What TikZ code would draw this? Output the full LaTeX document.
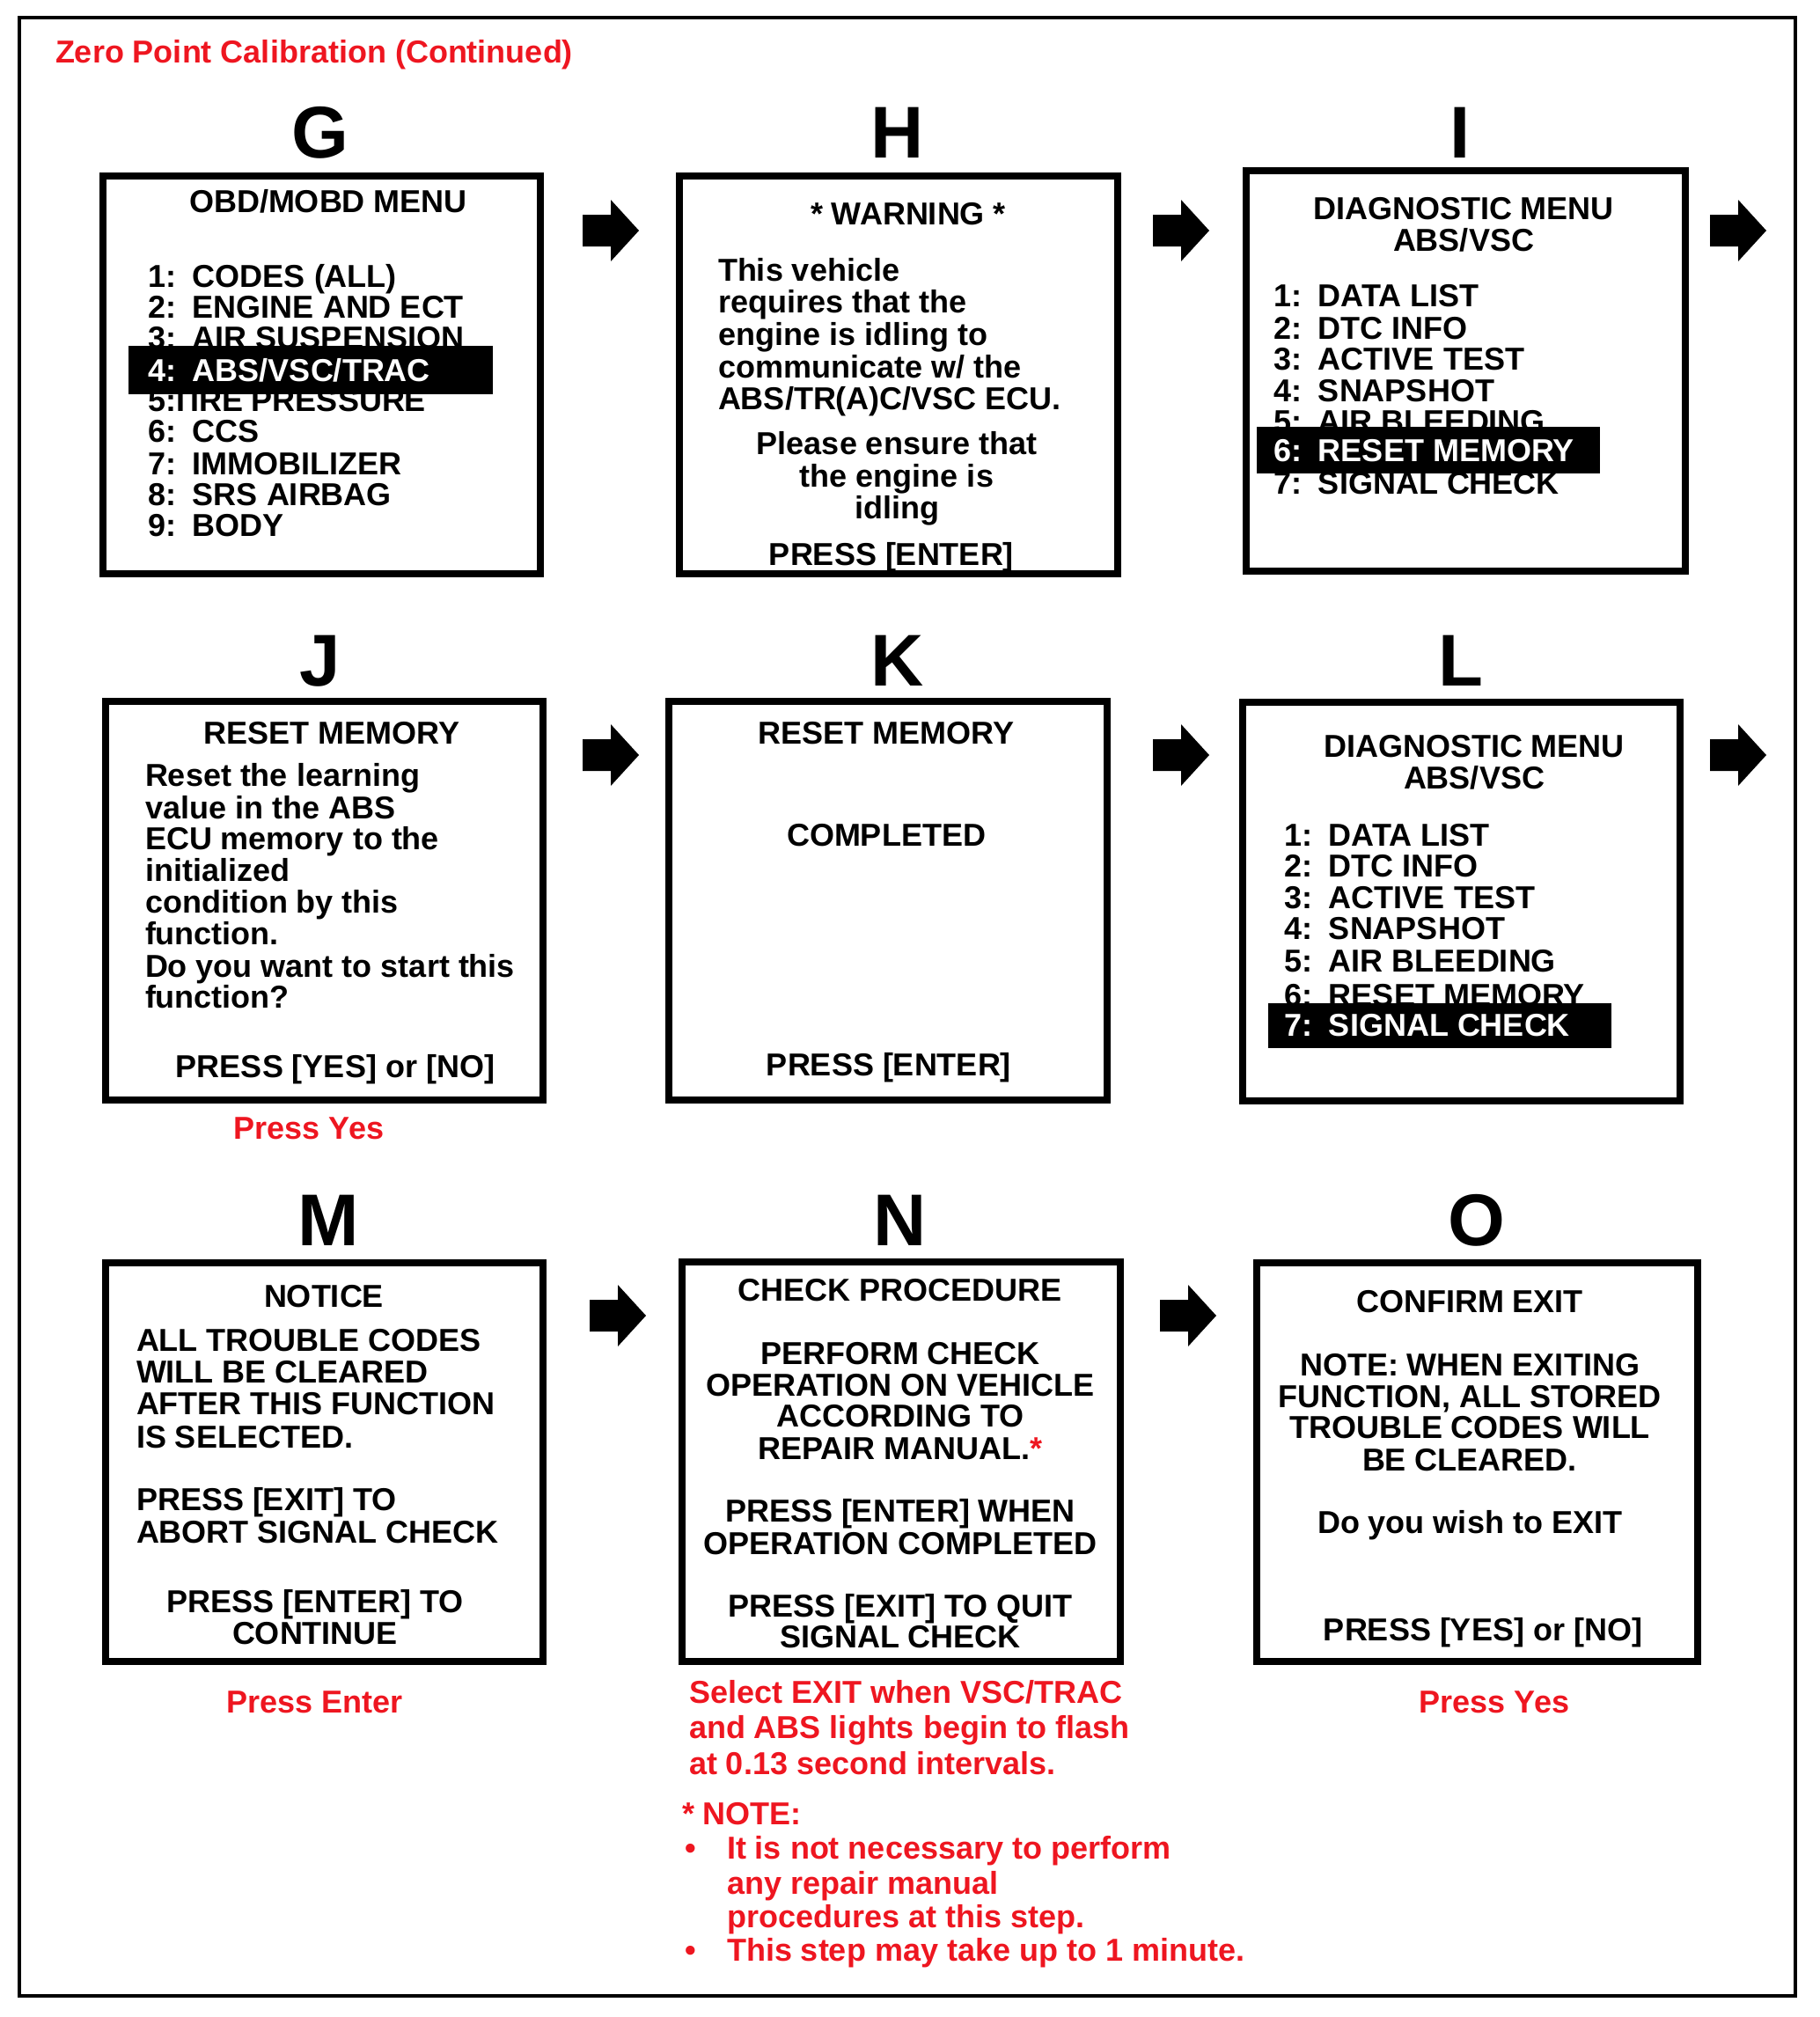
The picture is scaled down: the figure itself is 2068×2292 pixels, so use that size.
\documentclass[tikz,border=0pt]{standalone}
\usepackage{fontspec}
\setmainfont{Liberation Sans}
\definecolor{notered}{RGB}{238,22,32}
\newcommand\num[1]{\makebox[15.3pt][l]{#1}}
\newcommand\numn[1]{\makebox[7.8pt][l]{#1}}
\begin{document}
\begin{tikzpicture}[x=0.3pt,y=-0.3pt,
  every node/.style={inner sep=0pt,outer sep=0pt},
  body/.style={font=\fontsize{10.8}{12}\selectfont\bfseries},
  lt/.style={body,anchor=base west},
  ct/.style={body,anchor=base},
  wt/.style={lt,text=white},
  rednote/.style={text=notered},
  letter/.style={font=\fontsize{25}{30}\selectfont\bfseries,anchor=base},
  screen/.style={draw,line width=2.2pt},
  hlbar/.style={fill=black},
  blockarrow/.style={fill=black}]
\useasboundingbox (0,0) rectangle (2068,2292);
\draw[line width=1.35pt] (22,20) rectangle (2040,2268);
\node[body,rednote,anchor=base west] (title) at (63,71) {Zero Point Calibration (Continued)};

% step letters
\node[letter] (LG) at (364,179) {G};
\node[letter] (LH) at (1020,179) {H};
\node[letter] (LI) at (1659,179) {I};
\node[letter] (LJ) at (364,779) {J};
\node[letter] (LK) at (1020,779) {K};
\node[letter] (LL) at (1660,779) {L};
\node[letter] (LM) at (373,1415) {M};
\node[letter] (LN) at (1023,1415) {N};
\node[letter] (LO) at (1678,1415) {O};

% screens
\draw[screen] (117,200) rectangle (614,652);
\draw[screen] (772,200) rectangle (1270,652);
\draw[screen] (1416,194) rectangle (1915,649);
\draw[screen] (120,797) rectangle (617,1250);
\draw[screen] (760,797) rectangle (1258,1250);
\draw[screen] (1412,798) rectangle (1909,1251);
\draw[screen] (120,1435) rectangle (617,1888);
\draw[screen] (775,1434) rectangle (1273,1888);
\draw[screen] (1428,1435) rectangle (1929,1888);

% block arrows
\foreach \ax/\ay in {694/262,1342/262,1975/262,694/858,1342/858,1975/858,702/1495,1350/1495}
  \fill[blockarrow,shift={(\ax,\ay)}] (-32,-18) -- (0,-18) -- (0,-35) -- (32,0) -- (0,35) -- (0,18) -- (-32,18) -- cycle;

% G
\node[ct] (g0) at (373,241) {OBD/MOBD MENU};
\node[lt] (g1) at (168,326) {\num{1:}CODES (ALL)};
\node[lt] (g2) at (168,361) {\num{2:}ENGINE AND ECT};
\node[lt] (g3) at (168,396) {\num{3:}AIR SUSPENSION};
\node[lt] (g5) at (168,467) {\numn{5:}TIRE PRESSURE};
\fill[hlbar] (146,393) rectangle (560,448);
\node[wt] (g4) at (168,433) {\num{4:}ABS/VSC/TRAC};
\node[lt] (g6) at (168,502) {\num{6:}CCS};
\node[lt] (g7) at (168,539) {\num{7:}IMMOBILIZER};
\node[lt] (g8) at (168,574) {\num{8:}SRS AIRBAG};
\node[lt] (g9) at (168,609) {\num{9:}BODY};

% H
\node[ct] (h0) at (1032,255) {* WARNING *};
\node[lt] (h1) at (816,319) {This vehicle};
\node[lt] (h2) at (816,355) {requires that the};
\node[lt] (h3) at (816,392) {engine is idling to};
\node[lt] (h4) at (816,429) {communicate w/ the};
\node[lt] (h5) at (816,465) {ABS/TR(A)C/VSC ECU.};
\node[ct] (h6) at (1019,516) {Please ensure that};
\node[ct] (h7) at (1019,553) {the engine is};
\node[ct] (h8) at (1019,589) {idling};
\node[ct] (h9) at (1013,642) {PRESS [ENTER]};

% I
\node[ct] (i0) at (1663,249) {DIAGNOSTIC MENU};
\node[ct] (i0b) at (1663,285) {ABS/VSC};
\node[lt] (i1) at (1447,348) {\num{1:}DATA LIST};
\node[lt] (i2) at (1447,385) {\num{2:}DTC INFO};
\node[lt] (i3) at (1447,420) {\num{3:}ACTIVE TEST};
\node[lt] (i4) at (1447,456) {\num{4:}SNAPSHOT};
\node[lt] (i5) at (1447,491) {\num{5:}AIR BLEEDING};
\node[lt] (i7) at (1447,561) {\num{7:}SIGNAL CHECK};
\fill[hlbar] (1428,485) rectangle (1818,538);
\node[wt] (i6) at (1447,524) {\num{6:}RESET MEMORY};

% J
\node[ct] (j0) at (377,845) {RESET MEMORY};
\node[lt] (j1) at (165,893) {Reset the learning};
\node[lt] (j2) at (165,930) {value in the ABS};
\node[lt] (j3) at (165,965) {ECU memory to the};
\node[lt] (j4) at (165,1001) {initialized};
\node[lt] (j5) at (165,1037) {condition by this};
\node[lt] (j6) at (165,1073) {function.};
\node[lt] (j7) at (165,1110) {Do you want to start this};
\node[lt] (j8) at (165,1145) {function?};
\node[ct] (j9) at (381,1224) {PRESS [YES] or [NO]};
\node[ct,rednote] (jr) at (351,1294) {Press Yes};

% K
\node[ct] (k0) at (1007,845) {RESET MEMORY};
\node[ct] (k1) at (1007,961) {COMPLETED};
\node[ct] (k2) at (1010,1222) {PRESS [ENTER]};

% L
\node[ct] (l0) at (1675,860) {DIAGNOSTIC MENU};
\node[ct] (l0b) at (1675,896) {ABS/VSC};
\node[lt] (l1) at (1459,961) {\num{1:}DATA LIST};
\node[lt] (l2) at (1459,996) {\num{2:}DTC INFO};
\node[lt] (l3) at (1459,1032) {\num{3:}ACTIVE TEST};
\node[lt] (l4) at (1459,1067) {\num{4:}SNAPSHOT};
\node[lt] (l5) at (1459,1104) {\num{5:}AIR BLEEDING};
\node[lt] (l6) at (1459,1143) {\num{6:}RESET MEMORY};
\fill[hlbar] (1441,1140) rectangle (1831,1191);
\node[wt] (l7) at (1459,1177) {\num{7:}SIGNAL CHECK};

% M
\node[ct] (m0) at (368,1485) {NOTICE};
\node[lt] (m1) at (155,1535) {ALL TROUBLE CODES};
\node[lt] (m2) at (155,1571) {WILL BE CLEARED};
\node[lt] (m3) at (155,1607) {AFTER THIS FUNCTION};
\node[lt] (m4) at (155,1645) {IS SELECTED.};
\node[lt] (m5) at (155,1716) {PRESS [EXIT] TO};
\node[lt] (m6) at (155,1753) {ABORT SIGNAL CHECK};
\node[ct] (m7) at (358,1832) {PRESS [ENTER] TO};
\node[ct] (m8) at (358,1868) {CONTINUE};
\node[ct,rednote] (mr) at (358,1946) {Press Enter};

% N
\node[ct] (n0) at (1023,1478) {CHECK PROCEDURE};
\node[ct] (n1) at (1023,1550) {PERFORM CHECK};
\node[ct] (n2) at (1023,1586) {OPERATION ON VEHICLE};
\node[ct] (n3) at (1023,1621) {ACCORDING TO};
\node[ct] (n4) at (1023,1658) {REPAIR MANUAL.\textcolor{notered}{*}};
\node[ct] (n5) at (1023,1729) {PRESS [ENTER] WHEN};
\node[ct] (n6) at (1023,1766) {OPERATION COMPLETED};
\node[ct] (n7) at (1023,1837) {PRESS [EXIT] TO QUIT};
\node[ct] (n8) at (1023,1872) {SIGNAL CHECK};
\node[lt,rednote] (nr1) at (783,1935) {Select EXIT when VSC/TRAC};
\node[lt,rednote] (nr2) at (783,1975) {and ABS lights begin to flash};
\node[lt,rednote] (nr3) at (783,2016) {at 0.13 second intervals.};
\node[lt,rednote] (nr4) at (775,2073) {* NOTE:};
\node[lt,rednote] (nb1) at (778,2112) {\textbullet};
\node[lt,rednote] (nr5) at (826,2112) {It is not necessary to perform};
\node[lt,rednote] (nr6) at (826,2152) {any repair manual};
\node[lt,rednote] (nr7) at (826,2190) {procedures at this step.};
\node[lt,rednote] (nb2) at (778,2228) {\textbullet};
\node[lt,rednote] (nr8) at (826,2228) {This step may take up to 1 minute.};

% O
\node[ct] (o0) at (1670,1491) {CONFIRM EXIT};
\node[ct] (o1) at (1670,1563) {NOTE: WHEN EXITING};
\node[ct] (o2) at (1670,1599) {FUNCTION, ALL STORED};
\node[ct] (o3) at (1670,1634) {TROUBLE CODES WILL};
\node[ct] (o4) at (1670,1671) {BE CLEARED.};
\node[ct] (o5) at (1670,1742) {Do you wish to EXIT};
\node[ct] (o6) at (1685,1864) {PRESS [YES] or [NO]};
\node[ct,rednote] (or) at (1698,1946) {Press Yes};
\end{tikzpicture}
\end{document}
